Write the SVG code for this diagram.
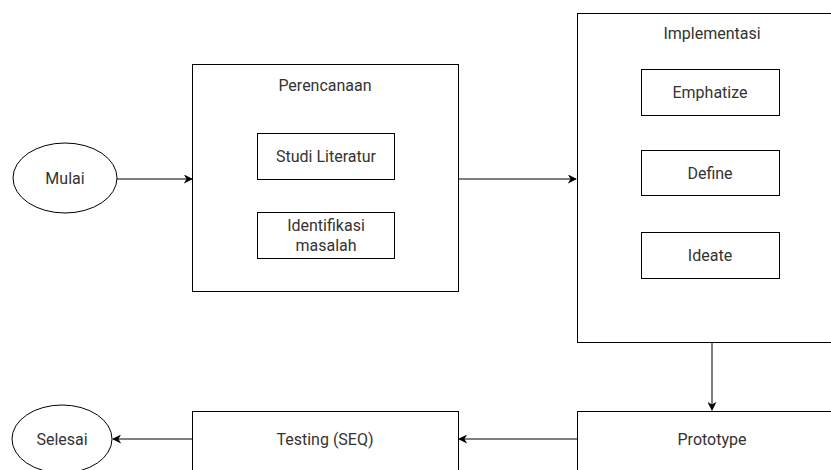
<svg xmlns="http://www.w3.org/2000/svg" width="831" height="470" viewBox="0 0 831 470">
<style>
.n{fill:#fff;stroke:#000;stroke-width:1}
.t{font-family:Roboto,"Liberation Sans",Arial,sans-serif;font-size:16px;fill:#333;text-anchor:middle;dominant-baseline:central}
.c{stroke:#000;stroke-width:1;fill:none;marker-end:url(#a)}
</style>
<defs>
<marker id="a" viewBox="0 0 10 10" refX="9" refY="5" markerWidth="9" markerHeight="9" markerUnits="userSpaceOnUse" orient="auto">
<path d="M0,0 L10,5 L0,10 L3,5 Z" fill="#000"/>
</marker>
</defs>
<rect width="831" height="470" fill="#fff"/>
<g id="connectors">
<path class="c" d="M117,179 L192,179"/>
<path class="c" d="M458,179 L576,179"/>
<path class="c" d="M712,342 L712,410"/>
<path class="c" d="M577,439 L459,439"/>
<path class="c" d="M192,439 L113,439"/>
</g>
<g id="mulai"><ellipse class="n" cx="65" cy="178" rx="52" ry="35"/><text class="t" x="65" y="178">Mulai</text></g>
<g id="perencanaan"><rect class="n" x="192.5" y="64.5" width="266" height="227"/><text class="t" x="325" y="85">Perencanaan</text></g>
<g id="studi"><rect class="n" x="257.5" y="133.5" width="137" height="46"/><text class="t" x="326" y="156">Studi Literatur</text></g>
<g id="identifikasi"><rect class="n" x="257.5" y="212.5" width="137" height="46"/><text class="t" x="326" y="225">Identifikasi</text><text class="t" x="326" y="245">masalah</text></g>
<g id="implementasi"><rect class="n" x="577.5" y="13.5" width="270" height="329"/><text class="t" x="712" y="33">Implementasi</text></g>
<g id="emphatize"><rect class="n" x="641.5" y="69.5" width="138" height="46"/><text class="t" x="710" y="92">Emphatize</text></g>
<g id="define"><rect class="n" x="641.5" y="150.5" width="138" height="45"/><text class="t" x="710" y="173">Define</text></g>
<g id="ideate"><rect class="n" x="641.5" y="232.5" width="138" height="46"/><text class="t" x="710" y="255">Ideate</text></g>
<g id="prototype"><rect class="n" x="577.5" y="411.5" width="270" height="70"/><text class="t" x="712" y="439">Prototype</text></g>
<g id="testing"><rect class="n" x="192.5" y="411.5" width="266" height="70"/><text class="t" x="325" y="439">Testing (SEQ)</text></g>
<g id="selesai"><ellipse class="n" cx="62" cy="439" rx="50" ry="34"/><text class="t" x="62" y="439">Selesai</text></g>
</svg>
